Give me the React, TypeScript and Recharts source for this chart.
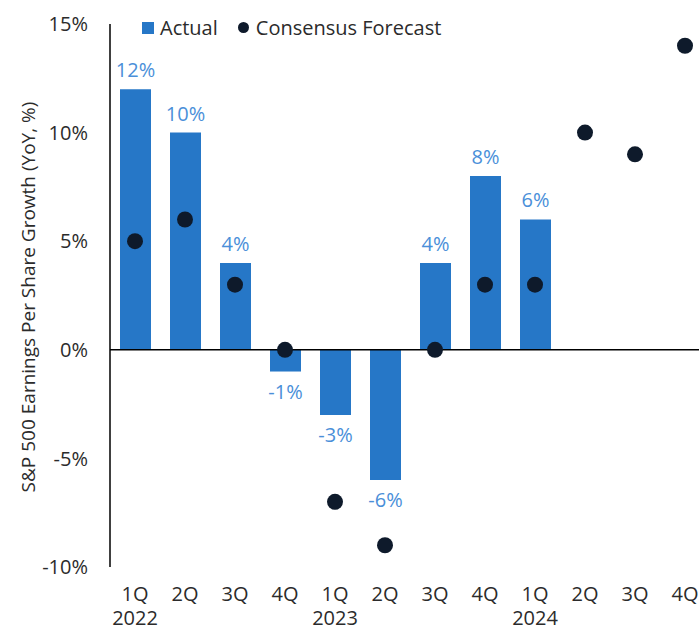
import React from "react";
import { ComposedChart, Bar, Line, XAxis, YAxis, ReferenceLine, LabelList } from "recharts";

const quarters = ["1Q", "2Q", "3Q", "4Q", "1Q", "2Q", "3Q", "4Q", "1Q", "2Q", "3Q", "4Q"];
const years = ["2022", "", "", "", "2023", "", "", "", "2024", "", "", ""];
const actual = [12, 10, 4, -1, -3, -6, 4, 8, 6, null, null, null];
const forecast = [5, 6, 3, 0, -7, -9, 0, 3, 3, 10, 9, 14];
const yTicks = [-10, -5, 0, 5, 10, 15];

const data = quarters.map((q, i) => ({
  key: `${q}-${i}`,
  quarter: q,
  year: years[i],
  actual: actual[i],
  forecast: forecast[i],
}));

const FONT = "'Open Sans', 'Noto Sans', sans-serif";
const WEIGHT = 400;
const BAR_BLUE = "#2677c7";
const LABEL_BLUE = "#4a8fd9";
const DOT = "#0e1a2b";
const TEXT = "#2b2b2b";

const QuarterTick = (props: any) => {
  const { x, y, payload, index } = props;
  return (
    <g>
      <text x={x} y={y + 26} textAnchor="middle" fontSize={20} fontWeight={WEIGHT} fill={TEXT} fontFamily={FONT}>
        {quarters[index] ?? payload.value}
      </text>
      {years[index] && (
        <text x={x} y={y + 50} textAnchor="middle" fontSize={20} fontWeight={WEIGHT} fill={TEXT} fontFamily={FONT}>
          {years[index]}
        </text>
      )}
    </g>
  );
};

const BarValue = (props: any) => {
  const { x, y, width, height, value } = props;
  if (value == null) return null;
  const cx = x + width / 2;
  const top = Math.min(y, y + height);
  const bottom = Math.max(y, y + height);
  const ty = value < 0 ? bottom + 27 : top - 12;
  return (
    <text x={cx} y={ty} textAnchor="middle" fontSize={20} fontWeight={WEIGHT} fill={LABEL_BLUE} fontFamily={FONT}>
      {`${value}%`}
    </text>
  );
};

const YLabel = () => (
  <text
    x={35}
    y={297}
    transform="rotate(-90 35 297)"
    textAnchor="middle"
    fontSize={19}
    fontWeight={WEIGHT}
    fill={TEXT}
    fontFamily={FONT}
  >
    S&amp;P 500 Earnings Per Share Growth (YoY, %)
  </text>
);

export default function App() {
  return (
    <div style={{ position: "absolute", left: 0, top: 0, width: 699, height: 631, overflow: "hidden", background: "#fff" }}>
      <ComposedChart
        width={711}
        height={631}
        data={data}
        margin={{ top: 24, right: 1, bottom: 0, left: 0 }}
        barSize={31}
      >
        <XAxis
          dataKey="key"
          axisLine={false}
          tickLine={false}
          height={64}
          interval={0}
          tick={<QuarterTick />}
        />
        <YAxis
          width={110}
          domain={[-10, 15]}
          ticks={yTicks}
          tickFormatter={(v: number) => `${v}%`}
          tickLine={false}
          tickSize={0}
          tickMargin={22}
          axisLine={{ stroke: "#000", strokeWidth: 1.5 }}
          tick={{ fontSize: 20, fontWeight: WEIGHT, fill: TEXT, fontFamily: FONT }}
          label={<YLabel />}
        />
        <ReferenceLine y={0} stroke="#000" strokeWidth={1.5} />
        <Bar dataKey="actual" fill={BAR_BLUE} isAnimationActive={false}>
          <LabelList dataKey="actual" content={<BarValue />} />
        </Bar>
        <Line
          dataKey="forecast"
          stroke="none"
          isAnimationActive={false}
          dot={{ r: 8, fill: DOT, stroke: "none" }}
          activeDot={false}
        />
      </ComposedChart>
      <div
        style={{
          position: "absolute",
          left: 142,
          top: 14,
          display: "flex",
          alignItems: "center",
          fontFamily: FONT,
          fontSize: 20,
          fontWeight: WEIGHT,
          color: TEXT,
          whiteSpace: "nowrap",
        }}
      >
        <span style={{ width: 12, height: 12, background: BAR_BLUE, display: "inline-block", marginRight: 6 }} />
        <span>Actual</span>
        <span
          style={{ width: 11, height: 11, borderRadius: "50%", background: DOT, display: "inline-block", marginLeft: 20, marginRight: 7 }}
        />
        <span>Consensus Forecast</span>
      </div>
    </div>
  );
}
